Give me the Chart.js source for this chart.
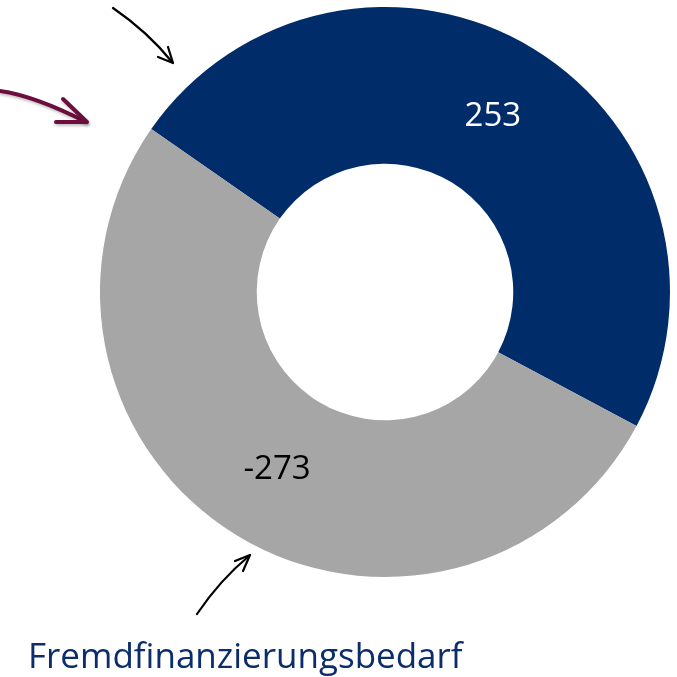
<!DOCTYPE html>
<html>
<head>
<meta charset="utf-8">
<script src="https://cdn.jsdelivr.net/npm/chart.js@4/dist/chart.umd.min.js"></script>
<style>
html,body{margin:0;padding:0;background:#fff;}
#c{display:block;}
</style>
</head>
<body>
<canvas id="c" width="677" height="677"></canvas>
<script>
const categories = ['Innenfinanzierung', 'Fremdfinanzierungsbedarf'];
const values = [253, -273];
const valueLabels = ['253', '-273'];
const colors = ['#002D6A', '#A6A6A6'];
const labelColors = ['#ffffff', '#000000'];
const captionText = 'Fremdfinanzierungsbedarf';

const decorPlugin = {
  id: 'decor',
  afterDatasetsDraw(chart) {
    const ctx = chart.ctx;
    const meta = chart.getDatasetMeta(0);
    ctx.save();
    ctx.textAlign = 'center';
    ctx.textBaseline = 'middle';
    ctx.font = '33px "Open Sans", sans-serif';
    meta.data.forEach((arc, i) => {
      const p = arc.tooltipPosition();
      ctx.fillStyle = labelColors[i];
      ctx.fillText(valueLabels[i], p.x, p.y + 1, i === 0 ? 60 : 75);
    });
    ctx.restore();
  },
  afterDraw(chart) {
    const ctx = chart.ctx;
    ctx.save();
    ctx.lineCap = 'round';
    ctx.lineJoin = 'round';
    // top black arrow
    ctx.strokeStyle = '#000';
    ctx.lineWidth = 2.2;
    ctx.beginPath();
    ctx.moveTo(113, 8);
    ctx.quadraticCurveTo(148, 32, 172, 62);
    ctx.stroke();
    ctx.beginPath();
    ctx.moveTo(158, 57);
    ctx.lineTo(173, 63);
    ctx.lineTo(168, 47);
    ctx.stroke();
    // maroon arrow
    ctx.shadowColor = 'rgba(0,0,0,0.25)';
    ctx.shadowBlur = 3;
    ctx.shadowOffsetX = 1;
    ctx.shadowOffsetY = 2;
    ctx.strokeStyle = '#6B0E3E';
    ctx.lineWidth = 4;
    ctx.beginPath();
    ctx.moveTo(0, 91);
    ctx.quadraticCurveTo(35, 96, 86, 122);
    ctx.stroke();
    ctx.beginPath();
    ctx.moveTo(63, 99);
    ctx.lineTo(87, 122);
    ctx.lineTo(56, 122);
    ctx.stroke();
    ctx.shadowColor = 'transparent';
    // bottom black arrow
    ctx.strokeStyle = '#000';
    ctx.lineWidth = 2.2;
    ctx.beginPath();
    ctx.moveTo(197, 614);
    ctx.quadraticCurveTo(220, 580, 249, 556);
    ctx.stroke();
    ctx.beginPath();
    ctx.moveTo(235, 561);
    ctx.lineTo(250, 555);
    ctx.lineTo(243, 571);
    ctx.stroke();
    // caption
    ctx.fillStyle = '#0B2D6B';
    ctx.font = '35px "Open Sans", sans-serif';
    ctx.textAlign = 'left';
    ctx.textBaseline = 'alphabetic';
    ctx.fillText(captionText, 28, 668, 435);
    ctx.restore();
  }
};

new Chart(document.getElementById('c'), {
  type: 'doughnut',
  data: {
    labels: categories,
    datasets: [{
      data: values.map(v => Math.abs(v)),
      backgroundColor: colors,
      borderWidth: 0,
      hoverOffset: 0
    }]
  },
  options: {
    responsive: false,
    animation: false,
    rotation: -55.1,
    cutout: '45%',
    layout: { padding: { left: 100, right: 7, top: 7, bottom: 100 } },
    plugins: { legend: { display: false }, tooltip: { enabled: false } }
  },
  plugins: [decorPlugin]
});
</script>
</body>
</html>
